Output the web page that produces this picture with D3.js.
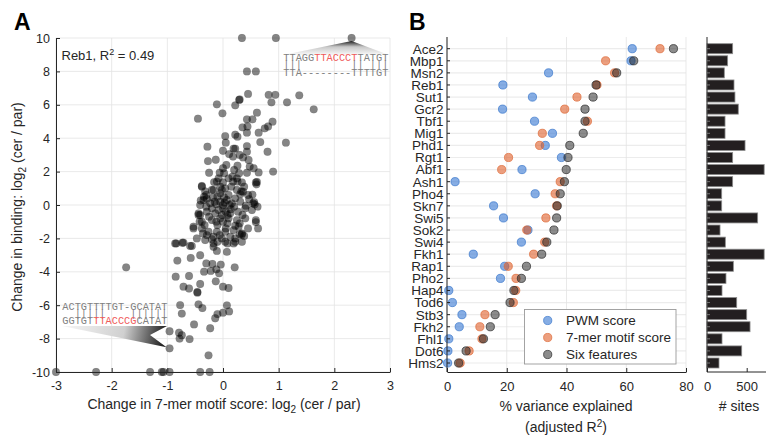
<!DOCTYPE html>
<html>
<head>
<meta charset="utf-8">
<script src="https://cdn.jsdelivr.net/npm/d3@7"></script>
<style>
  body { margin: 0; background: #fff; }
  svg { font-family: "Liberation Sans", Arial, sans-serif; }
</style>
</head>
<body>
<svg id="chart" width="766" height="436"></svg>
<script>
// panel A: change in 7-mer motif score (x) vs change in binding (y), Reb1 sites
const scatterPoints = [
  [0.34, 10], [0.95, 10], [2.31, 10], [0.43, 8], [0.59, 8],
  [0.45, 6.65], [0.82, 6.6], [0.94, 6.6], [1.37, 6.57], [0.29, 6.29], [0.30, 6.32],
  [-0.11, 6.03], [0.22, 5.97], [0.87, 6.15], [1.15, 6.15], [1.63, 5.73],
  [-0.45, 5.17], [-0.01, 5.49], [0.61, 5.53], [0.43, 5.13], [0.53, 5.13], [0.89, 4.99],
  [0.35, 4.65], [0.44, 4.7], [0.75, 4.59], [0.81, 4.7], [0.64, 4.33], [0.43, 4.33],
  [0.04, 4.13], [0.22, 4.21], [0.26, 4.09], [1.13, 3.73], [0.67, 3.77], [0.05, 3.73],
  [-0.28, 3.49], [0.43, 3.53], [0.19, 3.37], [0.22, 3.37], [0.0, 3.25], [0.8, 3.19], [0.43, 3.19],
  [-0.27, 2.63], [-0.13, 2.71], [0.18, 2.9], [0.36, 2.85], [0.46, 2.7], [0.11, 3.05], [0.3, 3.0],
  [0.26, 2.35], [0.48, 2.3], [0.55, 2.2], [0.9, 2.0],
  [-0.25, 1.93], [-0.06, 1.93], [0.02, 1.9], [0.17, 1.7], [0.29, 1.9], [0.43, 1.93], [0.64, 1.95],
  [-0.38, 1.14], [-0.16, 1.37], [0.0, 1.35], [0.26, 1.4], [0.61, 1.38],
  [0.33, 0.82], [0.53, 0.62], [-0.32, 0.82], [-0.17, 0.9], [-0.4, 0.27], [-0.29, 0.37], [0.56, 0.17],
  [0.6, 1.24], [-0.34, 0.5], [-0.41, 0.0], [-0.3, -0.1], [-0.44, -0.6], [0.57, 0.04], [0.41, -0.04],
  [0.36, 0.8], [0.25, 1.6],
  [-0.11, 1.4], [0.18, 1.4], [0.34, 1.35], [0.59, 1.35],
  [-0.38, 1.1], [-0.2, 0.9], [0.04, 1.0], [0.25, 0.9], [0.45, 0.6], [0.31, 0.65],
  [-0.35, 0.3], [-0.23, 0.1], [-0.05, 0.2], [0.07, 0.3], [0.16, 0.1], [0.31, 0.2], [0.54, 0.1],
  [-0.44, -0.5], [-0.29, -0.4], [-0.14, -0.5], [0.0, -0.2], [0.13, -0.5], [0.27, -0.4], [0.4, -0.2],
  [0.52, -0.3], [0.62, -0.1],
  [-0.38, -1.0], [-0.2, -0.9], [-0.05, -0.8], [0.1, -0.8], [0.25, -0.9], [0.4, -0.8], [0.59, -0.9],
  [-0.53, -1.4], [-0.38, -1.4], [-0.26, -1.6], [-0.11, -1.6], [0.04, -1.6], [0.19, -1.5], [0.34, -1.7],
  [0.45, -1.4], [0.63, -1.4],
  [-0.47, -2.0], [-0.32, -2.1], [-0.17, -1.9], [-0.02, -2.0], [0.13, -1.9], [0.22, -2.2], [0.34, -2.2],
  [-0.86, -2.3], [-0.71, -2.25], [-0.56, -2.45], [-0.17, -2.5], [0.04, -2.2], [0.19, -2.3],
  [-0.1, 0.5], [-0.05, 0.7], [0.0, 0.0], [0.05, -0.4], [-0.08, -0.3], [0.1, 0.6], [-0.15, 0.2],
  [0.02, 0.45], [-0.02, -0.6], [0.08, -1.1], [-0.1, -1.2], [0.12, 0.0], [-0.2, -0.2], [0.2, -0.1],
  [0.0, -1.0], [-0.05, 1.1], [0.15, 1.1], [-0.25, -0.7], [0.22, 0.4], [-0.3, 0.6], [0.05, -1.4],
  [-0.12, -1.0], [0.3, -1.1], [-0.02, 0.9], [0.1, 1.6], [-0.08, 1.6], [0.2, 2.1], [0.06, 2.4],
  [0.0, 2.2], [-0.18, 0.45], [0.35, -0.6], [0.14, -0.25], [-0.06, -1.8], [0.28, -1.3], [-0.33, -1.2],
  [0.47, 0.35], [0.38, 1.1], [0.08, -0.6], [-0.12, 0.05], [0.03, 0.15],
  [0.59, -1.02], [0.34, -1.76], [0.38, -1.85], [0.22, -1.24], [-0.53, -1.3], [-0.42, -1.0],
  [-0.41, -0.6], [-0.36, -1.7], [-0.29, -1.8], [-0.2, -2.05], [-0.1, -2.2], [-0.17, -2.3],
  [-0.84, -2.3], [-0.73, -2.26], [-0.59, -2.45], [0.08, -2.3], [0.22, -2.0], [0.3, -1.75],
  [-0.11, -2.75], [0.07, -2.81], [-0.41, -3.01], [-0.58, -3.17], [-0.82, -3.33], [-0.19, -3.53],
  [-0.3, -3.5], [-0.04, -3.57], [-0.12, -3.85], [-0.34, -3.99], [-0.22, -3.95], [-0.07, -4.09],
  [0.21, -3.73], [-1.74, -3.73], [-0.85, -4.29], [-0.61, -4.25], [-0.13, -4.57], [-0.41, -4.73],
  [-0.71, -4.89], [-0.61, -5.0], [0.0, -4.89], [0.1, -4.97], [-0.46, -5.21], [-0.46, -5.25],
  [-0.77, -5.99], [-0.44, -5.95], [-0.37, -6.17], [0.07, -6.01], [0.11, -6.37], [0.0, -6.45],
  [-0.1, -6.53], [-0.14, -6.78], [-0.74, -6.5], [-0.52, -7.15], [-0.23, -7.38],
  [-0.96, -7.56], [-0.79, -7.65], [-0.74, -7.8], [-0.78, -8.0], [-0.6, -8.03], [-0.96, -8.58],
  [-0.26, -9.0],
  [-3.0, -10], [-2.28, -10], [-1.31, -10], [-1.1, -10], [-1.07, -10], [-0.96, -10], [-0.41, -10], [-0.24, -10]
];
const scatterXTicks = [-3, -2, -1, 0, 1, 2, 3];
const scatterYTicks = [-10, -8, -6, -4, -2, 0, 2, 4, 6, 8, 10];

// panel B: variance explained per factor
const tfNames = ["Ace2", "Mbp1", "Msn2", "Reb1", "Sut1", "Gcr2", "Tbf1", "Mig1", "Phd1", "Rgt1",
  "Abf1", "Ash1", "Pho4", "Skn7", "Swi5", "Sok2", "Swi4", "Fkh1", "Rap1", "Pho2", "Hap4", "Tod6",
  "Stb3", "Fkh2", "Fhl1", "Dot6", "Hms2"];
const pwmScore = [62.0, 61.6, 34.0, 18.7, 28.6, 18.6, 29.3, 35.3, 32.9, 38.3, 25.1, 2.7, 29.5, 15.6,
  18.9, 27.1, 24.9, 8.8, 19.3, 17.9, 0.6, 1.8, 5.0, 4.1, 0.6, 0.3, 0.2];
const motifScore = [71.3, 53.1, 56.1, 50.2, 43.5, 39.4, 47.0, 31.9, 31.0, 20.6, 18.3, 37.9, 36.2, 36.7,
  33.1, 26.7, 32.7, 29.0, 20.5, 23.1, 23.0, 22.2, 12.7, 11.0, 11.7, 7.4, 4.4];
const sixFeatures = [75.8, 62.5, 56.8, 49.9, 48.9, 46.2, 46.2, 45.6, 41.1, 40.5, 39.9, 39.3, 37.9, 36.9,
  36.7, 35.8, 33.4, 31.7, 26.6, 24.9, 22.4, 21.1, 16.1, 14.5, 12.2, 6.4, 3.9];
const siteCounts = [323, 260, 218, 340, 352, 394, 227, 227, 479, 323, 720, 323, 185, 185, 638, 164, 231,
  720, 332, 239, 189, 374, 500, 542, 189, 437, 151];
const varianceTicks = [0, 20, 40, 60, 80];
const siteTicks = [0, 500];
const legendLabels = ["PWM score", "7-mer motif score", "Six features"];

const axisColor = "#262626";
const gridColor = "#e3e3e3";
const monoFont = "'Liberation Mono', 'Courier New', monospace";

var svg = d3.select("#chart");
var plainFormat = d => String(d);

// ---------- panel A ----------
var xA = d3.scaleLinear().domain([-3, 3]).range([56, 390]);
var yA = d3.scaleLinear().domain([-10, 10]).range([372, 38]);

var gridA = svg.append("g");
scatterXTicks.forEach(t => {
    gridA.append("line").attr("x1", xA(t)).attr("x2", xA(t)).attr("y1", yA(-10)).attr("y2", yA(10))
        .attr("stroke", gridColor).attr("stroke-width", 0.8);
});
scatterYTicks.forEach(t => {
    gridA.append("line").attr("x1", xA(-3)).attr("x2", xA(3)).attr("y1", yA(t)).attr("y2", yA(t))
        .attr("stroke", gridColor).attr("stroke-width", 0.8);
});

svg.append("g")
    .selectAll("circle")
    .data(scatterPoints)
    .join("circle")
        .attr("cx", d => xA(d[0]))
        .attr("cy", d => yA(d[1]))
        .attr("r", 3.9)
        .attr("fill", "#000")
        .attr("fill-opacity", 0.48)
        .attr("stroke", "#000")
        .attr("stroke-opacity", 0.12)
        .attr("stroke-width", 0.5);

var xAxisA = svg.append("g")
    .attr("transform", "translate(0," + yA(-10) + ")")
    .call(d3.axisBottom(xA).tickValues(scatterXTicks).tickFormat(plainFormat)
        .tickSizeInner(-4).tickSizeOuter(0).tickPadding(9));
var yAxisA = svg.append("g")
    .attr("transform", "translate(" + xA(-3) + ",0)")
    .call(d3.axisLeft(yA).tickValues(scatterYTicks).tickFormat(plainFormat)
        .tickSizeInner(-4).tickSizeOuter(0).tickPadding(6));
[xAxisA, yAxisA].forEach(g => {
    g.selectAll("path, line").attr("stroke", axisColor);
    g.selectAll("text").attr("fill", axisColor).style("font-size", "12.5px").style("font-family", null);
});

// annotation pointers
var defs = svg.append("defs");
var gTop = defs.append("linearGradient").attr("id", "gradTop")
    .attr("gradientUnits", "userSpaceOnUse").attr("x1", 0).attr("y1", 54).attr("x2", 0).attr("y2", 41);
gTop.append("stop").attr("offset", 0).attr("stop-color", "#f4f4f4");
gTop.append("stop").attr("offset", 0.55).attr("stop-color", "#c8c8c8");
gTop.append("stop").attr("offset", 1).attr("stop-color", "#1e1e1e");
var gBot = defs.append("linearGradient").attr("id", "gradBot")
    .attr("gradientUnits", "userSpaceOnUse").attr("x1", 62).attr("y1", 326).attr("x2", 163).attr("y2", 347);
gBot.append("stop").attr("offset", 0).attr("stop-color", "#f6f6f6");
gBot.append("stop").attr("offset", 0.6).attr("stop-color", "#d0d0d0");
gBot.append("stop").attr("offset", 1).attr("stop-color", "#1e1e1e");

var topPt = scatterPoints[2];
var botPt = scatterPoints.find(d => d[0] === -0.96 && d[1] === -8.58);
svg.append("path")
    .attr("d", d3.line()([[283, 55], [xA(topPt[0]), yA(topPt[1]) + 3], [389, 55]]))
    .attr("fill", "url(#gradTop)");
svg.append("path")
    .attr("d", d3.line()([[62, 326], [167, 326], [150, 335], [xA(botPt[0]) - 3, yA(botPt[1]) - 1]]))
    .attr("fill", "url(#gradBot)");

// alignment text: spaces become non-breaking so the match bars keep their columns
function seqLine(x, y, parts) {
    var t = svg.append("text").attr("x", x).attr("y", y)
        .style("font-family", monoFont)
        .style("font-size", "10.3px");
    parts.forEach(p => t.append("tspan").text(p[0].replace(/ /g, "\u00a0"))
        .attr("fill", p[1] ? "#f05a5a" : "#808080"));
}
seqLine(283.3, 60.5, [["TTAGG", false], ["TTACCCT", true], ["TATGT", false]]);
seqLine(283.3, 68, [["|||        || |||", false]]);
seqLine(283.3, 76, [["TTA--------TTTTGT", false]]);
seqLine(62.3, 310, [["ACTGTTTTGT-GCATAT", false]]);
seqLine(62.3, 317, [["  |||||    ||||||", false]]);
seqLine(62.3, 324.3, [["GGTGT", false], ["TTACCCG", true], ["CATAT", false]]);

var r2 = svg.append("text").attr("x", 61.5).attr("y", 60).attr("fill", axisColor).style("font-size", "13px");
r2.append("tspan").text("Reb1, R");
r2.append("tspan").text("2").attr("dy", -5).style("font-size", "9px");
r2.append("tspan").text(" = 0.49").attr("dy", 5);

var xLabA = svg.append("text").attr("x", 224).attr("y", 409).attr("text-anchor", "middle")
    .attr("fill", axisColor).style("font-size", "14px");
xLabA.append("tspan").text("Change in 7-mer motif score: log");
xLabA.append("tspan").text("2").attr("dy", 4).style("font-size", "10px");
xLabA.append("tspan").text(" (cer / par)").attr("dy", -4);

var yLabA = svg.append("text").attr("transform", "translate(22,207) rotate(-90)").attr("text-anchor", "middle")
    .attr("fill", axisColor).style("font-size", "14px");
yLabA.append("tspan").text("Change in binding: log");
yLabA.append("tspan").text("2").attr("dy", 4).style("font-size", "10px");
yLabA.append("tspan").text(" (cer / par)").attr("dy", -4);

svg.append("text").text("A").attr("x", 14).attr("y", 30).style("font-size", "23px").style("font-weight", "bold");

// ---------- panel B ----------
var xB = d3.scaleLinear().domain([0, 80]).range([447, 686]);
var yB = d3.scalePoint().domain(tfNames).range([48.7, 363]);
var topB = 37, bottomB = 372;

var gridB = svg.append("g");
tfNames.forEach(n => {
    gridB.append("line").attr("x1", xB(0)).attr("x2", xB(80)).attr("y1", yB(n)).attr("y2", yB(n))
        .attr("stroke", "#ececec").attr("stroke-width", 1.2);
});
varianceTicks.forEach(t => {
    gridB.append("line").attr("x1", xB(t)).attr("x2", xB(t)).attr("y1", topB).attr("y2", bottomB)
        .attr("stroke", gridColor).attr("stroke-width", 0.8);
});

var seriesB = [
    { values: pwmScore, fill: "#3b7bd4", stroke: "#3a78cc", fo: 0.62 },
    { values: motifScore, fill: "#df5a22", stroke: "#de6a38", fo: 0.58 },
    { values: sixFeatures, fill: "#1a1a1a", stroke: "#2b2b2b", fo: 0.5 }
];
seriesB.forEach(s => {
    svg.append("g").selectAll("circle")
        .data(tfNames)
        .join("circle")
            .attr("cx", (d, i) => xB(s.values[i]))
            .attr("cy", d => yB(d))
            .attr("r", 4.1)
            .attr("fill", s.fill)
            .attr("fill-opacity", s.fo)
            .attr("stroke", s.stroke)
            .attr("stroke-opacity", 0.8)
            .attr("stroke-width", 0.9);
});

var xAxisB = svg.append("g")
    .attr("transform", "translate(0," + bottomB + ")")
    .call(d3.axisBottom(xB).tickValues(varianceTicks).tickFormat(plainFormat)
        .tickSizeInner(-4).tickSizeOuter(0).tickPadding(10));
svg.append("line").attr("x1", xB(0)).attr("x2", xB(0)).attr("y1", topB).attr("y2", bottomB)
    .attr("stroke", axisColor);
var yTicksB = svg.append("g");
tfNames.forEach(n => {
    yTicksB.append("line").attr("x1", xB(0)).attr("x2", xB(0) + 3).attr("y1", yB(n)).attr("y2", yB(n))
        .attr("stroke", axisColor);
    yTicksB.append("text").text(n).attr("x", 443.5).attr("y", yB(n)).attr("dy", "0.36em")
        .attr("text-anchor", "end").attr("fill", axisColor).style("font-size", "13.5px");
});

// legend
var legend = svg.append("g");
legend.append("rect").attr("x", 524.5).attr("y", 309.5).attr("width", 151.5).attr("height", 54.5)
    .attr("fill", "#fff").attr("stroke", "#9a9a9a").attr("stroke-width", 0.9);
legendLabels.forEach((lab, i) => {
    var ly = 320.5 + i * 17;
    legend.append("circle").attr("cx", 547.7).attr("cy", ly).attr("r", 4.1)
        .attr("fill", seriesB[i].fill).attr("fill-opacity", seriesB[i].fo)
        .attr("stroke", seriesB[i].stroke).attr("stroke-opacity", 0.8).attr("stroke-width", 0.9);
    legend.append("text").text(lab).attr("x", 566).attr("y", ly).attr("dy", "0.36em")
        .attr("fill", axisColor).style("font-size", "13.5px");
});

svg.append("text").text("% variance explained").attr("x", 566).attr("y", 410.5).attr("text-anchor", "middle")
    .attr("fill", axisColor).style("font-size", "14px");
var adj = svg.append("text").attr("x", 566).attr("y", 432).attr("text-anchor", "middle")
    .attr("fill", axisColor).style("font-size", "14px");
adj.append("tspan").text("(adjusted R");
adj.append("tspan").text("2").attr("dy", -5).style("font-size", "10px");
adj.append("tspan").text(")").attr("dy", 5);

svg.append("text").text("B").attr("x", 409).attr("y", 29.5).style("font-size", "23px").style("font-weight", "bold");

// ---------- site counts ----------
var xS = d3.scaleLinear().domain([0, 500]).range([707, 746.7]);
svg.append("g").selectAll("rect")
    .data(tfNames)
    .join("rect")
        .attr("x", xS(0))
        .attr("y", d => yB(d) - 5)
        .attr("width", (d, i) => xS(siteCounts[i]) - xS(0))
        .attr("height", 10)
        .attr("fill", "#231f20")
        .attr("stroke", "#8c8c8c")
        .attr("stroke-width", 0.8);
var xAxisS = svg.append("g")
    .attr("transform", "translate(0," + bottomB + ")")
    .call(d3.axisBottom(xS).tickValues(siteTicks).tickFormat(plainFormat)
        .tickSizeInner(-4).tickSizeOuter(0).tickPadding(10));
xAxisS.select(".domain").attr("d", "M" + xS(0) + ",0H770");
svg.append("line").attr("x1", xS(0)).attr("x2", xS(0)).attr("y1", topB).attr("y2", bottomB)
    .attr("stroke", axisColor);
tfNames.forEach(n => {
    svg.append("line").attr("x1", xS(0)).attr("x2", xS(0) + 3).attr("y1", yB(n)).attr("y2", yB(n))
        .attr("stroke", "#777");
});
svg.append("text").text("# sites").attr("x", 739).attr("y", 410.5).attr("text-anchor", "middle")
    .attr("fill", axisColor).style("font-size", "14px");

[xAxisB, xAxisS].forEach(g => {
    g.selectAll("path, line").attr("stroke", axisColor);
    g.selectAll("text").attr("fill", axisColor).style("font-size", "13px").style("font-family", null);
});
</script>
</body>
</html>
